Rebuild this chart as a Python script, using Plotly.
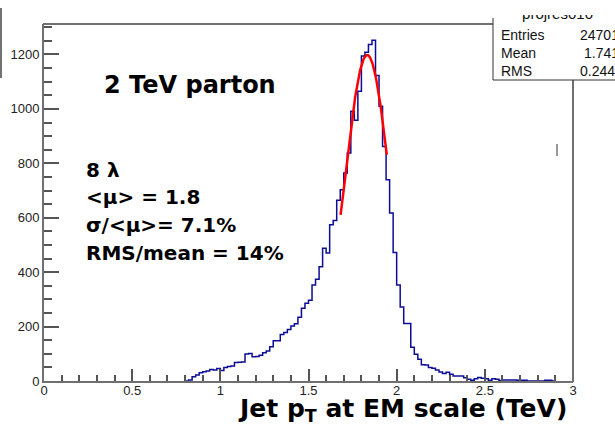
import numpy as np
import plotly.graph_objects as go

# ---------------- data ----------------
BIN_LO = 0.80      # TeV, left edge of first listed bin
BIN_W = 0.02       # TeV
counts = [
    0, 4, 16, 22, 30, 34, 37, 42, 40, 46,          # 0.80 - 0.98
    39, 50, 53, 55, 68, 69, 70, 99, 101, 89,       # 1.00 - 1.18
    90, 95, 104, 110, 126, 148, 148, 171, 178, 189,  # 1.20 - 1.38
    202, 210, 234, 267, 286, 297, 353, 374, 420, 488,  # 1.40 - 1.58
    470, 574, 590, 664, 703, 764, 838, 991, 958, 1065,  # 1.60 - 1.78
    1194, 1208, 1237, 1252, 1123, 1010, 862, 740, 617, 472,  # 1.80 - 1.98
    353, 272, 211, 211, 124, 98, 80, 60, 59, 50,   # 2.00 - 2.18
    47, 40, 33, 28, 32, 25, 18, 18, 18, 12,        # 2.20 - 2.38
    6, 3, 8, 13, 10, 8, 3, 8, 6, 2,                # 2.40 - 2.58
    4, 4, 4, 4, 3, 3, 3, 0, 0, 0,                  # 2.60 - 2.78
    0, 0, 3, 3, 0,                                 # 2.80 - 2.88
]
# Gaussian fit parameters (red curve)
fit_amp = 1198.0
fit_mu = 1.833
fit_sigma = 0.130
fit_lo, fit_hi = 1.682, 1.944

x_ticks = [0, 0.5, 1, 1.5, 2, 2.5, 3]
y_ticks = [0, 200, 400, 600, 800, 1000, 1200]

stats_title = "projres010"
stats_names = ["Entries", "Mean", "RMS"]
stats_values = ["24701", "1.741", "0.244"]

label_main = "2 TeV parton"
label_lines = ["8 λ", "&lt;μ&gt; = 1.8", "σ/&lt;μ&gt;= 7.1%", "RMS/mean = 14%"]
x_title = "Jet p<sub>T</sub> at EM scale (TeV)"

# ---------------- geometry (pixels) ----------------
W, H = 615, 425
L, R, T, B = 44, 573, 24, 381


def px(x):
    return x / W


def py(y):
    return 1 - y / H


edges = BIN_LO + BIN_W * np.arange(len(counts) + 1)
hist_y = list(counts) + [counts[-1]]

fit_x = np.linspace(fit_lo, fit_hi, 200)
fit_y = fit_amp * np.exp(-0.5 * ((fit_x - fit_mu) / fit_sigma) ** 2)

fig = go.Figure()
fig.add_trace(go.Scatter(
    x=edges, y=hist_y, mode="lines",
    line=dict(color="#0c0c96", width=1.5, shape="hv"),
    hoverinfo="skip", showlegend=False))
fig.add_trace(go.Scatter(
    x=fit_x, y=fit_y, mode="lines",
    line=dict(color="#ff0000", width=2.5),
    hoverinfo="skip", showlegend=False))
# stats header text, clipped by its own small subplot
fig.add_trace(go.Scatter(
    x=[0.529], y=[0.93], mode="text", text=[stats_title],
    textfont=dict(family="Liberation Sans", size=15, color="#111"),
    xaxis="x2", yaxis="y2", cliponaxis=True,
    hoverinfo="skip", showlegend=False))

tickfont = dict(family="Liberation Sans, Arial, sans-serif", size=13, color="#222")

fig.update_layout(
    template="none",
    width=W, height=H,
    margin=dict(l=0, r=0, t=0, b=0, pad=0),
    paper_bgcolor="white", plot_bgcolor="rgba(0,0,0,0)",
    showlegend=False,
    xaxis=dict(
        domain=[px(L), px(R)], range=[0, 3],
        tickvals=x_ticks, ticks="inside", ticklen=12, tickwidth=1.5, tickcolor="#555",
        minor=dict(dtick=0.1, tick0=0, ticks="inside", ticklen=6, tickwidth=1.5, tickcolor="#555"),
        showline=True, linecolor="#707070", linewidth=2, mirror=False,
        showgrid=False, zeroline=False, tickfont=tickfont, automargin=False,
        ticklabelstandoff=-4,
    ),
    yaxis=dict(
        domain=[py(B), py(T)], range=[0, 1312],
        tickvals=y_ticks, ticks="inside", ticklen=15, tickwidth=1.5, tickcolor="#555",
        minor=dict(dtick=50, tick0=0, ticks="inside", ticklen=8, tickwidth=1.5, tickcolor="#555"),
        showline=True, linecolor="#707070", linewidth=2, mirror=False,
        showgrid=False, zeroline=False, tickfont=tickfont, automargin=False,
    ),
    xaxis2=dict(domain=[px(493), 1.0], range=[0, 1], visible=False, anchor="y2"),
    yaxis2=dict(domain=[py(25), py(15)], range=[0, 1], visible=False, anchor="x2"),
)

shapes = [
    # top frame (hidden under stats box on the right)
    dict(type="line", xref="paper", yref="paper", x0=px(L - 1), x1=px(493), y0=py(T), y1=py(T),
         line=dict(color="#707070", width=2)),
    # right frame below stats box
    dict(type="line", xref="paper", yref="paper", x0=px(R), x1=px(R), y0=py(80), y1=py(B + 1),
         line=dict(color="#707070", width=2)),
    # stats box edges
    dict(type="line", xref="paper", yref="paper", x0=px(493), x1=px(493), y0=py(18), y1=py(80),
         line=dict(color="#333", width=1)),
    dict(type="line", xref="paper", yref="paper", x0=px(493), x1=1.0, y0=py(80), y1=py(80),
         line=dict(color="#333", width=1)),
    # stray marks
    dict(type="line", xref="paper", yref="paper", x0=px(1), x1=px(1), y0=py(8), y1=py(78),
         line=dict(color="#444", width=1.5)),
    dict(type="line", xref="paper", yref="paper", x0=px(557), x1=px(557), y0=py(144), y1=py(156),
         line=dict(color="#333", width=1)),
]
fig.update_layout(shapes=shapes)

bold = dict(family="DejaVu Sans, Verdana, sans-serif", color="black")
ann = []
ann.append(dict(text="<b>" + label_main + "</b>", x=px(102), y=py(85), xref="paper", yref="paper",
                xanchor="left", yanchor="middle", showarrow=False, font=dict(size=24, **bold)))
for txt, yy in zip(label_lines, [170, 197, 225, 253]):
    ann.append(dict(text="<b>" + txt + "</b>", x=px(84), y=py(yy), xref="paper", yref="paper",
                    xanchor="left", yanchor="middle", showarrow=False, font=dict(size=20, **bold)))
ann.append(dict(text="<b>" + x_title + "</b>", x=px(569), y=py(410), xref="paper", yref="paper",
                xanchor="right", yanchor="middle", showarrow=False, font=dict(size=25, **bold)))
sfont = dict(family="Liberation Sans, Arial, sans-serif", size=14, color="#111")
for name, val, yy, vx in zip(stats_names, stats_values, [35, 53, 71], [578, 582, 578]):
    ann.append(dict(text=name, x=px(499), y=py(yy), xref="paper", yref="paper",
                    xanchor="left", yanchor="middle", showarrow=False, font=sfont))
    ann.append(dict(text=val, x=px(vx), y=py(yy), xref="paper", yref="paper",
                    xanchor="left", yanchor="middle", showarrow=False, font=sfont))
fig.update_layout(annotations=ann)

fig.write_html("out.html")
